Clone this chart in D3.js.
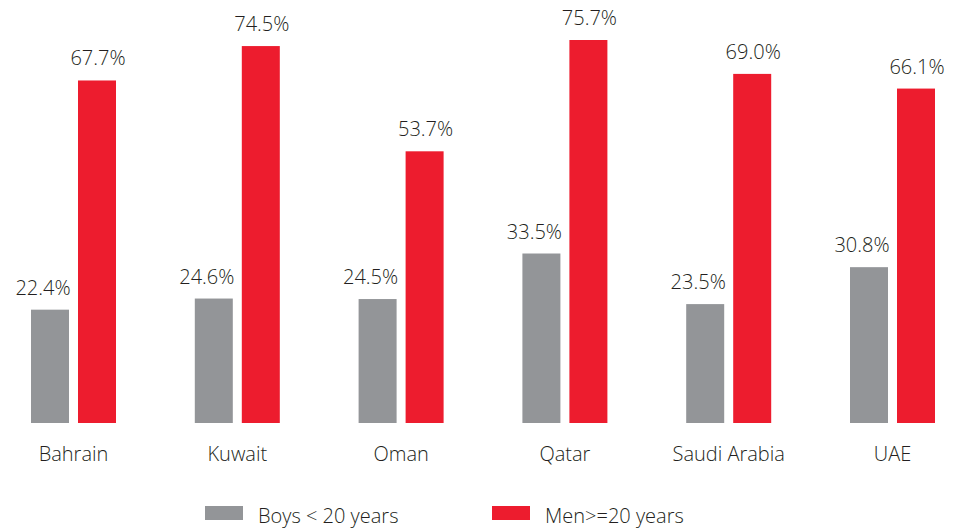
<!DOCTYPE html>
<html>
<head>
<meta charset="utf-8">
<script src="https://cdn.jsdelivr.net/npm/d3@7"></script>
<style>
  body { margin: 0; background: #fff; }
  text { font-family: "Open Sans", sans-serif; font-weight: 300; fill: #231f20; }
</style>
</head>
<body>
<main></main>
<script>
// data
const countries = ['Bahrain', 'Kuwait', 'Oman', 'Qatar', 'Saudi Arabia', 'UAE']
const boys = [22.4, 24.6, 24.5, 33.5, 23.5, 30.8]
const men = [67.7, 74.5, 53.7, 75.7, 69.0, 66.1]
const seriesNames = ['Boys < 20 years', 'Men>=20 years']
const seriesColors = ['#939598', '#ed1c2e']

// sizes
const size = { width: 957, height: 532 }
const baseline = 423

const svg = d3.select('main')
  .append('svg')
  .attr('width', size.width)
  .attr('height', size.height)

// scales
const xScale = d3.scaleBand()
  .domain(countries)
  .range([31, 935])
  .paddingInner(78.8 / 163.8)
  .paddingOuter(0)

const xSub = d3.scaleBand()
  .domain([0, 1])
  .range([0, xScale.bandwidth()])
  .paddingInner(9 / 47)

const yScale = d3.scaleLinear()
  .domain([0, 75.7])
  .range([baseline, 40])

const rows = countries.map((c, i) => ({ country: c, values: [boys[i], men[i]] }))

// bars
const groups = svg.selectAll('.group')
  .data(rows)
  .enter()
  .append('g')
  .attr('class', 'group')
  .attr('transform', d => `translate(${xScale(d.country)},0)`)

groups.selectAll('rect')
  .data(d => d.values.map((v, k) => ({ v, k })))
  .enter()
  .append('rect')
  .attr('x', d => xSub(d.k))
  .attr('width', xSub.bandwidth())
  .attr('y', d => yScale(d.v))
  .attr('height', d => baseline - yScale(d.v))
  .attr('fill', d => seriesColors[d.k])

groups.selectAll('text.value')
  .data(d => d.values.map((v, k) => ({ v, k })))
  .enter()
  .append('text')
  .attr('class', 'value')
  .attr('x', d => xSub(d.k) + xSub.bandwidth() / 2 + (d.k === 0 ? -7 : 1))
  .attr('y', d => yScale(d.v) - 15)
  .attr('text-anchor', 'middle')
  .style('font-size', '20px')
  .text(d => d.v.toFixed(1) + '%')

// category axis
const xAxis = d3.axisBottom(xScale).tickSize(0).tickPadding(0)
const axisG = svg.append('g')
  .attr('transform', `translate(0,${baseline + 21})`)
  .call(xAxis)
axisG.select('.domain').remove()
axisG.selectAll('text')
  .attr('dy', '0.85em')
  .style('font-size', '20px')
  .style('fill', '#231f20')
  .style('font-weight', 300)
  .style('font-family', '"Open Sans", sans-serif')

// legend
const legendX = [205, 492]
const legend = svg.selectAll('.legend')
  .data(seriesNames)
  .enter()
  .append('g')
  .attr('class', 'legend')
  .attr('transform', (d, i) => `translate(${legendX[i]},506)`)

legend.append('rect')
  .attr('width', 38)
  .attr('height', 14)
  .attr('fill', (d, i) => seriesColors[i])

legend.append('text')
  .attr('x', 53)
  .attr('y', 17)
  .style('font-size', '20px')
  .text(d => d)
</script>
</body>
</html>
